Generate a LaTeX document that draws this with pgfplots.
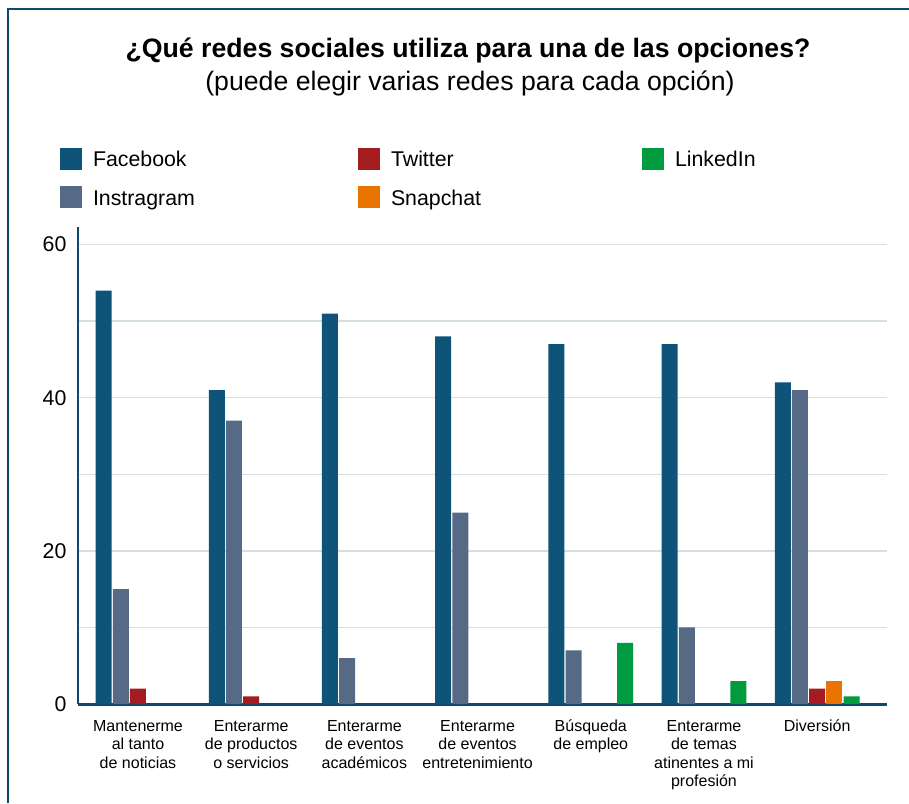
\documentclass[border=0pt]{standalone}
\usepackage{fontspec}
\setmainfont{Liberation Sans}
\usepackage{pgfplots}
\pgfplotsset{compat=1.18}
\definecolor{fb}{HTML}{0E5378}
\definecolor{ig}{HTML}{566A86}
\definecolor{tw}{HTML}{A51C20}
\definecolor{sc}{HTML}{E97300}
\definecolor{li}{HTML}{009B3E}
\definecolor{axisc}{HTML}{0B4A6E}
\definecolor{gridc}{HTML}{D4DFE6}
\definecolor{framec}{HTML}{0E4C6C}
\newcommand{\legitem}[3]{\makebox[#1][l]{\textcolor{#2}{\rule[-3pt]{22pt}{22pt}}\hspace{11pt}#3\rule[-10pt]{0pt}{39pt}}}
\begin{document}
\begin{tikzpicture}
\path[use as bounding box, fill=white] (0pt,0pt) rectangle (909pt,-803pt);
\draw[line width=1.5pt, color=framec] (8pt,-803pt) -- (8pt,-9pt) -- (909pt,-9pt);
\node[anchor=base, font=\fontsize{26.67}{32}\selectfont\bfseries] at (468pt,-57pt) {¿Qué redes sociales utiliza para una de las opciones?};
\node[anchor=base, font=\fontsize{26.67}{32}\selectfont] at (470pt,-90pt) {(puede elegir varias redes para cada opción)};
\begin{axis}[
  at={(78pt,-704pt)}, anchor=south west, scale only axis,
  width=809pt, height=477pt,
  xmin=-0.53, xmax=6.617, ymin=0, ymax=62.3,
  axis x line=bottom, axis y line=left,
  x axis line style={-, line width=3pt, color=axisc},
  y axis line style={-, line width=2pt, color=axisc},
  ybar, bar width=16pt,
  ytick={0,20,40,60}, minor ytick={10,30,50},
  ymajorgrids=true, yminorgrids=true,
  major grid style={color=gridc, line width=1.5pt},
  minor grid style={color=gridc, line width=1.5pt},
  major tick length=0pt, minor tick length=0pt,
  tick style={draw=none},
  /pgf/number format/assume math mode=true,
  yticklabel style={font=\fontsize{21.33}{25}\selectfont, xshift=-8pt},
  xtick={0,1,2,3,4,5,6},
  xticklabels={
    {\strut Mantenerme\\al tanto\\de noticias},
    {\strut Enterarme\\de productos\\o servicios},
    {\strut Enterarme\\de eventos\\académicos},
    {\strut Enterarme\\de eventos\\entretenimiento},
    {\strut Búsqueda\\de empleo},
    {\strut Enterarme\\de temas\\atinentes a mi\\profesión},
    {\strut Diversión}},
  xticklabel style={align=center, font=\fontsize{16}{18.5}\selectfont, anchor=north, yshift=-11pt},
  legend columns=3,
  legend image code/.code={},
  legend style={at={(-0.02225,1.18658)}, anchor=north west, draw=none, fill=none,
    inner sep=0pt, outer sep=0pt, column sep=0pt, row sep=8pt,
    font=\fontsize{21.33}{25}\selectfont,
    nodes={inner sep=0pt, outer sep=0pt}},
]
\addplot[fill=fb, draw=none, bar shift=-34.4pt] coordinates {(0,54) (1,41) (2,51) (3,48) (4,47) (5,47) (6,42)};
\addlegendentry{\legitem{298pt}{fb}{Facebook}}
\addplot[fill=tw, draw=none, bar shift=0pt] coordinates {(0,2) (1,1) (6,2)};
\addlegendentry{\legitem{284pt}{tw}{Twitter}}
\addplot[fill=li, draw=none, bar shift=34.4pt] coordinates {(4,8) (5,3) (6,1)};
\addlegendentry{\legitem{150pt}{li}{LinkedIn}}
\addplot[fill=ig, draw=none, bar shift=-17.2pt] coordinates {(0,15) (1,37) (2,6) (3,25) (4,7) (5,10) (6,41)};
\addlegendentry{\legitem{298pt}{ig}{Instragram}}
\addplot[fill=sc, draw=none, bar shift=17.2pt] coordinates {(6,3)};
\addlegendentry{\legitem{284pt}{sc}{Snapchat}}
\end{axis}
\end{tikzpicture}
\end{document}
